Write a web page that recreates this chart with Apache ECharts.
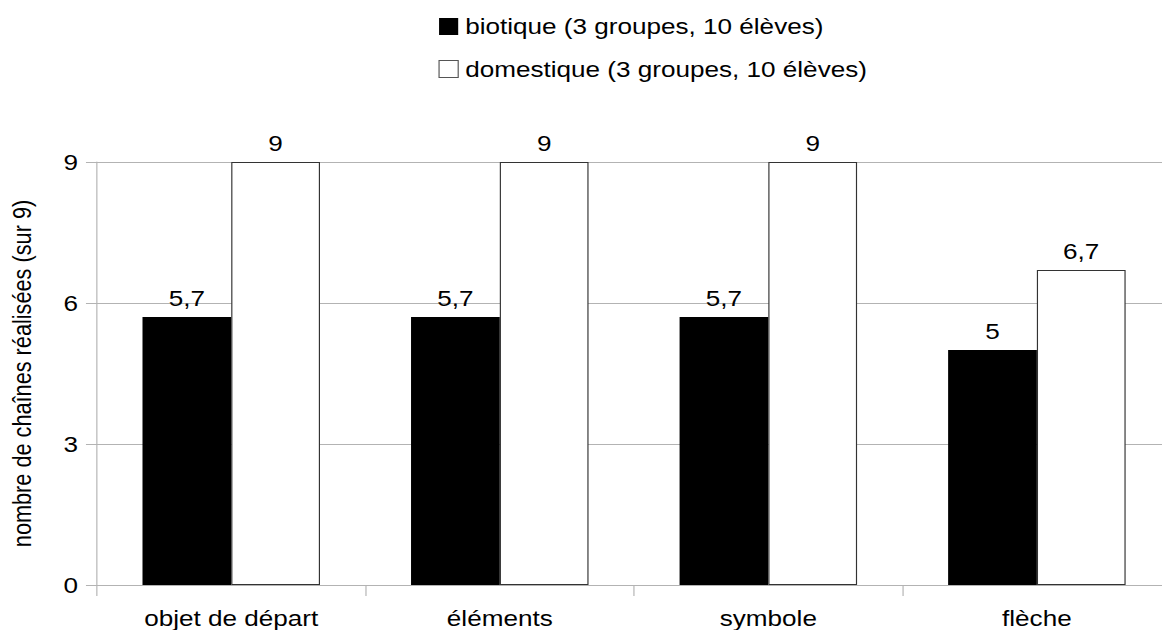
<!DOCTYPE html>
<html>
<head>
<meta charset="utf-8">
<script src="https://cdn.jsdelivr.net/npm/echarts@6/dist/echarts.min.js"></script>
<style>
html,body{margin:0;padding:0;background:#fff;overflow:hidden}
#wrap{width:1162px;height:630px;overflow:hidden}
#c{width:1040px;height:630px;transform:scaleX(1.16);transform-origin:0 0}
</style>
</head>
<body>
<div id="wrap"><div id="c"></div></div>
<script>
const categories = ['objet de départ', 'éléments', 'symbole', 'flèche'];
const biotique = [5.7, 5.7, 5.7, 5];
const domestique = [9, 9, 9, 6.7];
const seriesNames = ['biotique (3 groupes, 10 élèves)', 'domestique (3 groupes, 10 élèves)'];
const yTicks = [0, 3, 6, 9];
const yName = 'nombre de chaînes réalisées (sur 9)';

const font = 'Liberation Sans, Arial, sans-serif';
const fs = 22.5;
const fmt = p => String(p.value).replace('.', ',');
const chart = echarts.init(document.getElementById('c'), null, {renderer: 'svg'});
chart.setOption({
  animation: false,
  textStyle: {fontFamily: font},
  legend: {
    orient: 'vertical',
    left: 373, top: 10,
    itemWidth: 16.5, itemHeight: 17, itemGap: 19.5,
    textStyle: {fontSize: fs, color: '#000', fontFamily: font, lineHeight: fs, padding: [0, 0, 0, 1]},
    data: [
      {name: seriesNames[0], icon: 'rect', itemStyle: {color: '#000', borderWidth: 0}},
      {name: seriesNames[1], icon: 'rect', itemStyle: {color: '#fff', borderColor: '#555', borderWidth: 1}}
    ]
  },
  grid: {left: 83.6, width: 926, top: 162, bottom: 45, containLabel: false, outerBoundsMode: 'none'},
  xAxis: {
    type: 'category', data: categories,
    axisLine: {show: true, lineStyle: {color: '#b3b3b3', width: 1}},
    axisTick: {show: true, length: 11, lineStyle: {color: '#b3b3b3'}},
    axisLabel: {fontSize: fs, lineHeight: fs, color: '#000', margin: 21.5, fontFamily: font}
  },
  yAxis: {
    type: 'value', min: 0, max: 9, interval: 3,
    name: yName, nameLocation: 'middle', nameGap: 53, nameRotate: 90,
    nameTextStyle: {fontSize: 21.7, color: '#000', fontFamily: font},
    axisLine: {show: true, lineStyle: {color: '#b3b3b3', width: 1}},
    axisTick: {show: true, length: 9.5, lineStyle: {color: '#b3b3b3'}},
    axisLabel: {fontSize: fs, color: '#000', margin: 16.4, fontFamily: font,
      formatter: v => yTicks.includes(v) ? String(v) : ''},
    splitLine: {show: true, lineStyle: {color: '#b3b3b3', width: 1}}
  },
  series: [
    {name: seriesNames[0], type: 'bar', data: biotique, barGap: '0%', barCategoryGap: '33.9%',
      itemStyle: {color: '#000'},
      label: {show: true, position: 'top', distance: 7.5, fontSize: fs, lineHeight: fs, color: '#000', fontFamily: font, formatter: fmt}},
    {name: seriesNames[1], type: 'bar', data: domestique, barGap: '0%', barCategoryGap: '33.9%',
      itemStyle: {color: '#fff', borderColor: '#333', borderWidth: 1},
      label: {show: true, position: 'top', distance: 7.5, fontSize: fs, lineHeight: fs, color: '#000', fontFamily: font, formatter: fmt}}
  ]
});
</script>
</body>
</html>
